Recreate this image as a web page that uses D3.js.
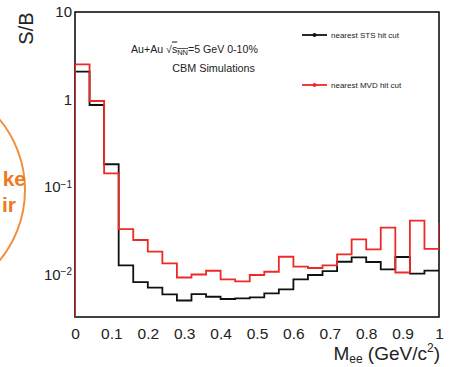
<!DOCTYPE html>
<html>
<head>
<meta charset="utf-8">
<script src="https://cdn.jsdelivr.net/npm/d3@7"></script>
<style>
  html, body { margin: 0; padding: 0; background: #fff; }
  svg { display: block; font-family: "Liberation Sans", Arial, Helvetica, sans-serif; }
</style>
</head>
<body>
<svg id="chart" width="452" height="367"></svg>
<script>
// ---- data ----
const binWidth = 0.04;
const binLowEdges = d3.range(25).map(i => +(i * 0.04).toFixed(2));
const stsValues = [2.08, 0.865, 0.182, 0.0127, 0.0082, 0.0071, 0.00594, 0.00505, 0.00598, 0.00557,
                   0.00525, 0.00535, 0.00549, 0.0061, 0.00678, 0.00881, 0.00987, 0.01096, 0.0140, 0.01574,
                   0.0139, 0.01146, 0.01585, 0.01026, 0.0111];
const mvdValues = [2.52, 0.962, 0.1435, 0.0331, 0.0248, 0.01823, 0.01343, 0.00925, 0.0100, 0.01104,
                   0.00881, 0.00836, 0.00987, 0.01076, 0.01597, 0.01228, 0.01187, 0.01274, 0.01702, 0.02524,
                   0.0194, 0.0343, 0.01054, 0.0414, 0.01968];
const mvdOverflow = 0.0388;
const xTickValues = [0, 0.1, 0.2, 0.3, 0.4, 0.5, 0.6, 0.7, 0.8, 0.9, 1];
const xTickLabels = ["0", "0.1", "0.2", "0.3", "0.4", "0.5", "0.6", "0.7", "0.8", "0.9", "1"];
const yTickValues = [0.01, 0.1, 1, 10];
const yTickBases = ["10", "10", "1", "10"];
const yTickExps = ["\u22122", "\u22121", "", ""];
const seriesNames = ["nearest STS hit cut", "nearest MVD hit cut"];
const seriesColors = ["#111111", "#ee2a26"];

// ---- layout ----
const L = 75, R = 439, T = 12, B = 317;
const svg = d3.select("#chart");
const x = d3.scaleLinear().domain([0, 1]).range([L, R]);
const y = d3.scaleLog().domain([0.00327, 10]).range([B, T]);

// orange circle fragment on the left
svg.append("circle").attr("cx", -85.5).attr("cy", 190).attr("r", 110.5)
  .attr("fill", "none").attr("stroke", "#f0903e").attr("stroke-width", 2);
svg.append("text").attr("x", 26).attr("y", 186).attr("text-anchor", "end")
  .attr("font-size", 21).attr("font-weight", "bold").attr("fill", "#ee7a1e").text("ke");
svg.append("text").attr("x", 16).attr("y", 212).attr("text-anchor", "end")
  .attr("font-size", 21).attr("font-weight", "bold").attr("fill", "#ee7a1e").text("ir");

// clip
svg.append("defs").append("clipPath").attr("id", "plotclip")
  .append("rect").attr("x", L).attr("y", T).attr("width", R - L).attr("height", B - T);

// frame
svg.append("rect").attr("x", L).attr("y", T).attr("width", R - L).attr("height", B - T)
  .attr("fill", "none").attr("stroke", "#111").attr("stroke-width", 1.6);

// histograms
const line = d3.line().x(d => x(d[0])).y(d => y(d[1])).curve(d3.curveStepAfter);
function histPoints(vals, overflow) {
  const pts = [[0, 0.001]];
  vals.forEach((v, i) => pts.push([binLowEdges[i], v]));
  pts.push([binLowEdges[vals.length - 1] + binWidth, overflow]);
  return pts;
}
const g = svg.append("g").attr("clip-path", "url(#plotclip)");
g.append("path").attr("d", line(histPoints(stsValues, stsValues[stsValues.length - 1])))
  .attr("fill", "none").attr("stroke", seriesColors[0]).attr("stroke-width", 1.8);
g.append("path").attr("d", line(histPoints(mvdValues, mvdOverflow)))
  .attr("fill", "none").attr("stroke", seriesColors[1]).attr("stroke-width", 1.8);

// x axis
const xAxis = svg.append("g").attr("transform", `translate(0,${B})`)
  .call(d3.axisBottom(x).tickValues(xTickValues).tickSize(0).tickPadding(11)
    .tickFormat((d, i) => xTickLabels[i]));
xAxis.select(".domain").remove();
xAxis.selectAll("text").attr("font-size", 15.5).attr("fill", "#222")
  .attr("font-family", "'Liberation Sans', Arial, sans-serif");

// y axis
const yAxis = svg.append("g").attr("transform", `translate(${L},0)`)
  .call(d3.axisLeft(y).tickValues(yTickValues).tickSize(0).tickPadding(3).tickFormat(() => ""));
yAxis.select(".domain").remove();
yAxis.selectAll(".tick text").each(function(d, i) {
  const t = d3.select(this).attr("font-size", 15).attr("fill", "#222")
    .attr("font-family", "'Liberation Sans', Arial, sans-serif");
  t.text(null);
  t.append("tspan").text(yTickBases[i]);
  if (yTickExps[i]) {
    t.append("tspan").attr("dy", "-0.45em").attr("font-size", 10).text(yTickExps[i]);
  }
});

// axis titles
svg.append("text").attr("transform", "translate(33,28.5) rotate(-90)")
  .attr("text-anchor", "middle").attr("font-size", 20).attr("fill", "#222").text("S/B");
const xt = svg.append("text").attr("x", 440).attr("y", 360).attr("text-anchor", "end")
  .attr("font-size", 19).attr("fill", "#222");
xt.append("tspan").text("M");
xt.append("tspan").attr("font-size", 12).attr("dy", 3).text("ee");
xt.append("tspan").attr("dy", -3).text(" (GeV/c");
xt.append("tspan").attr("font-size", 12).attr("dy", -8).text("2");
xt.append("tspan").attr("dy", 8).text(")");

// annotation
const ann = svg.append("text").attr("x", 131).attr("y", 52.5).attr("font-size", 10.6).attr("fill", "#222");
ann.append("tspan").text("Au+Au ");
ann.append("tspan").text("\u221A");
ann.append("tspan").attr("text-decoration", "overline").text("s");
ann.append("tspan").attr("font-size", 7.5).attr("dy", 2.5).attr("text-decoration", "overline").text("NN");
ann.append("tspan").attr("dy", -2.5).text("=5 GeV 0-10%");
svg.append("text").attr("x", 255).attr("y", 71.5).attr("text-anchor", "end")
  .attr("font-size", 10.8).attr("fill", "#222").text("CBM Simulations");

// legend
const legY = [35, 85];
seriesNames.forEach((name, i) => {
  const lg = svg.append("g");
  lg.append("line").attr("x1", 302).attr("x2", 327).attr("y1", legY[i]).attr("y2", legY[i])
    .attr("stroke", seriesColors[i]).attr("stroke-width", 1.8);
  lg.append("circle").attr("cx", 314.5).attr("cy", legY[i]).attr("r", 2).attr("fill", seriesColors[i]);
  lg.append("text").attr("x", 331).attr("y", legY[i] + 3).attr("font-size", 8)
    .attr("fill", "#222").text(name);
});
</script>
</body>
</html>
